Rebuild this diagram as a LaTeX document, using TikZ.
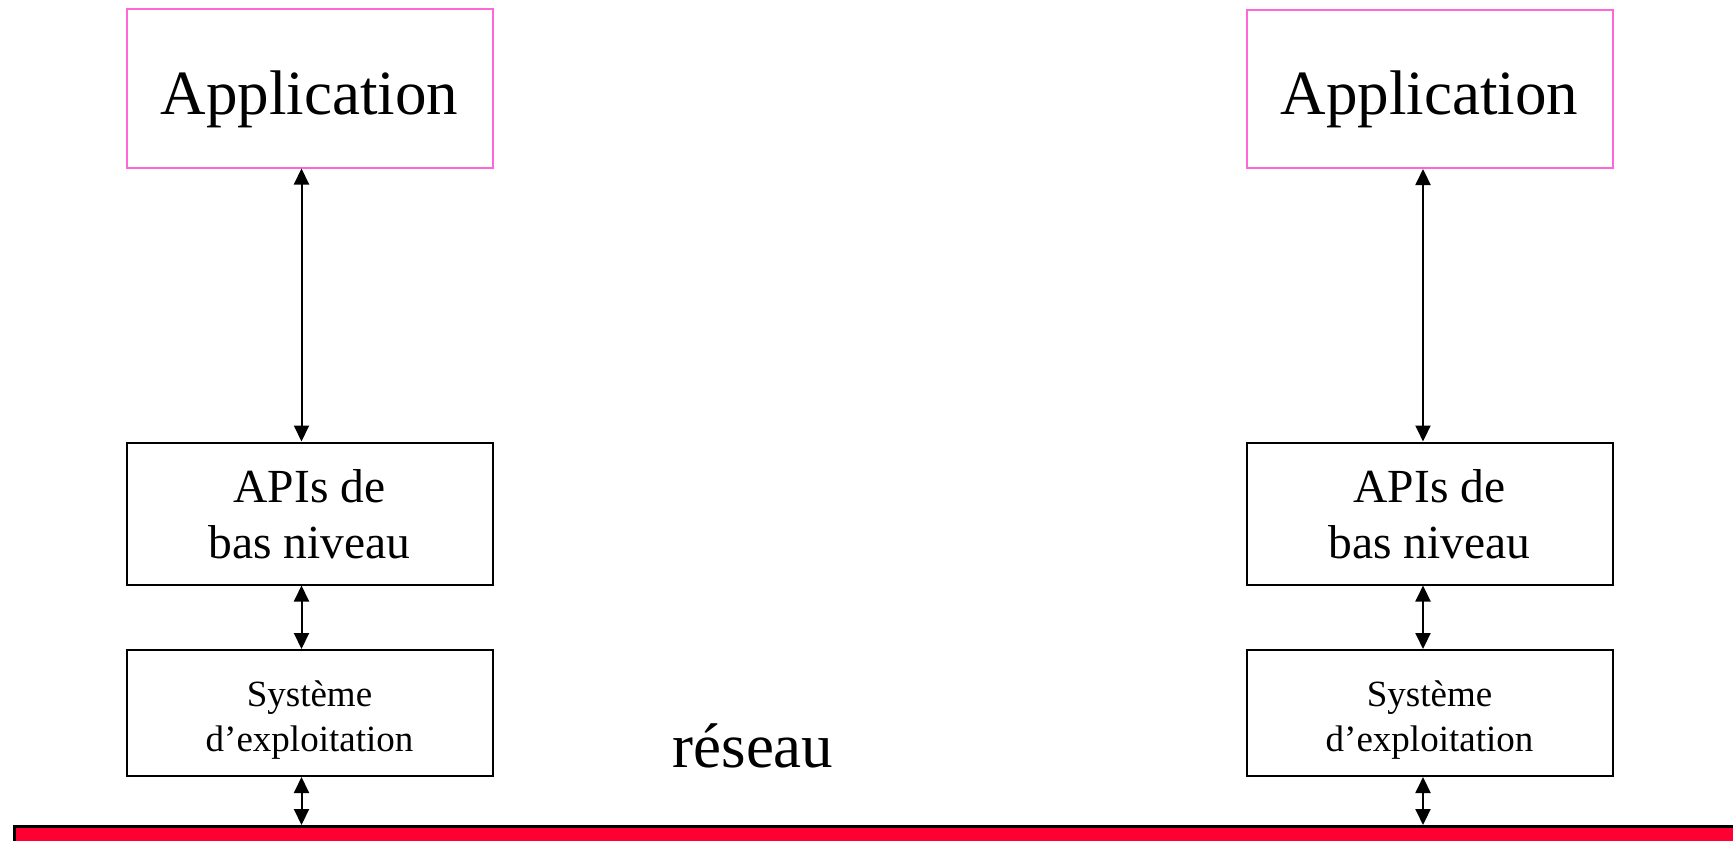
\documentclass[tikz,border=0pt]{standalone}
\usepackage{fontspec}
\setmainfont{Liberation Serif}
\usepackage{tikz}
\usetikzlibrary{positioning, arrows.meta, calc}
\definecolor{myPink}{HTML}{FF66D9}
\definecolor{myRed}{HTML}{FF0033}

\begin{document}
\begin{tikzpicture}[x=0.5pt, y=-0.5pt,
  box/.style={draw=black, line width=1pt, align=center, inner sep=0pt,
              minimum width=183pt, text depth=0pt},
  appbox/.style={box, draw=myPink, minimum height=79pt, text height=25.5pt,
                 font=\fontsize{31.5}{36}\selectfont},
  apibox/.style={box, minimum height=71pt, text height=44.5pt,
                 font=\fontsize{23.75}{28}\selectfont},
  osbox/.style={box, minimum height=63pt, text height=38pt,
                font=\fontsize{18.5}{22.5}\selectfont},
  arr/.style={{Triangle[length=8pt, width=7.5pt]}-{Triangle[length=8pt, width=7.5pt]}, line width=1pt}
]
\useasboundingbox (0,0) rectangle (1733,840);

\node[appbox] (appL) at (309.5,88.5) {Application};
\node[appbox] (appR) at (1429.5,89) {Application};

\node[apibox] (apiL) at (309.5,513.5) {APIs de\\bas niveau};
\node[apibox] (apiR) at (1429.5,513.5) {APIs de\\bas niveau};

\node[osbox] (osL) at (309.5,713) {Système\\d’exploitation};
\node[osbox] (osR) at (1429.5,713) {Système\\d’exploitation};

\node[anchor=base, font=\fontsize{31.5}{36}\selectfont] (net) at (753,767) {réseau};

% bande du reseau
\node[draw=black, line width=1.4pt, fill=myRed, anchor=north west,
      minimum width=870pt, minimum height=16pt, inner sep=0pt] (bar) at (13,825) {};

\draw[arr] ([xshift=-4pt]appL.south) -- ([xshift=-4pt]apiL.north);
\draw[arr] ([xshift=-4pt]apiL.south) -- ([xshift=-4pt]osL.north);
\draw[arr] ([xshift=-4pt]osL.south) -- ([xshift=-4pt]osL.south |- bar.north);

\draw[arr] ([xshift=-3.25pt]appR.south) -- ([xshift=-3.25pt]apiR.north);
\draw[arr] ([xshift=-3.25pt]apiR.south) -- ([xshift=-3.25pt]osR.north);
\draw[arr] ([xshift=-3.25pt]osR.south) -- ([xshift=-3.25pt]osR.south |- bar.north);
\end{tikzpicture}
\end{document}
